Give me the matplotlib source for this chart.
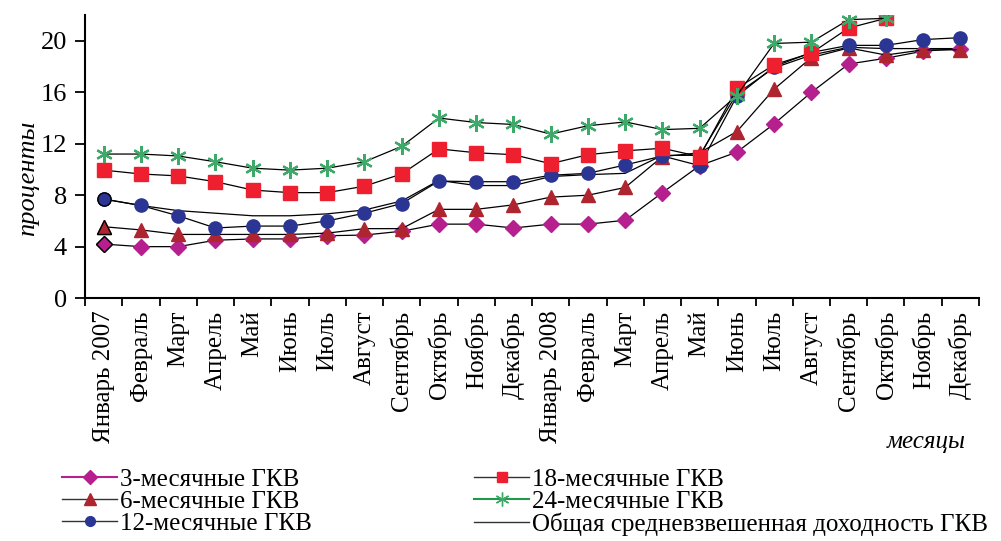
import numpy as np
import matplotlib
matplotlib.use('Agg')
import matplotlib.pyplot as plt
from matplotlib.lines import Line2D

plt.rcParams['font.family'] = ['Liberation Serif', 'DejaVu Serif']

months = ['Январь 2007', 'Февраль', 'Март', 'Апрель', 'Май', 'Июнь', 'Июль',
          'Август', 'Сентябрь', 'Октябрь', 'Ноябрь', 'Декабрь', 'Январь 2008',
          'Февраль', 'Март', 'Апрель', 'Май', 'Июнь', 'Июль', 'Август',
          'Сентябрь', 'Октябрь', 'Ноябрь', 'Декабрь']

# доходность по срокам, %
gkv3 = [4.2, 4.0, 4.0, 4.5, 4.6, 4.6, 4.85, 4.9, 5.2, 5.75, 5.75, 5.45,
        5.75, 5.75, 6.05, 8.2, 10.3, 11.35, 13.55, 16.0, 18.2, 18.65, 19.2, 19.4]
gkv6 = [5.55, 5.3, 4.95, 4.95, 4.95, 4.95, 5.05, 5.4, 5.4, 6.9, 6.9, 7.25,
        7.85, 8.0, 8.6, 11.0, 11.3, 12.95, 16.25, 18.7, 19.45, 18.9, 19.3, 19.3]
gkv12 = [7.7, 7.2, 6.4, 5.45, 5.6, 5.6, 6.0, 6.6, 7.35, 9.1, 9.05, 9.05,
         9.55, 9.7, 10.35, 11.05, 10.3, 15.7, 18.0, 19.1, 19.65, 19.65, 20.1, 20.25]
gkv18 = [9.95, 9.65, 9.5, 9.05, 8.4, 8.2, 8.2, 8.7, 9.65, 11.6, 11.3, 11.15,
         10.45, 11.15, 11.45, 11.65, 11.0, 16.3, 18.15, 19.05, 21.0, 21.75, np.nan, np.nan]
gkv24 = [11.2, 11.2, 11.05, 10.6, 10.1, 9.95, 10.1, 10.6, 11.8, 14.0, 13.65, 13.5,
         12.75, 13.4, 13.7, 13.1, 13.2, 15.75, 19.8, 19.9, 21.65, 21.75, np.nan, np.nan]
avg = [7.7, 7.2, 6.8, 6.6, 6.4, 6.4, 6.55, 6.85, 7.55, 9.15, 8.75, 8.75,
       9.45, 9.6, 9.7, 11.1, 11.1, 15.9, 17.9, 18.9, 19.5, 19.4, 19.4, 19.4]

c3, c6, c12, c18, c24 = '#B5208E', '#AE2530', '#2B3593', '#EE2030', '#3DAA6A'
star = (6, 2, 0)

fig = plt.figure(figsize=(10.01, 5.41), dpi=100)
ax = fig.add_axes([0.085, 0.449, 0.893, 0.523])
x = np.arange(len(months))

ax.plot(x, avg, color='black', lw=0.9)
ax.plot(x, gkv3, color='black', lw=0.9, marker='D', ms=8, mfc=c3, mec=c3)
ax.plot(x, gkv6, color='black', lw=0.9, marker='^', ms=10, mfc=c6, mec=c6)
ax.plot(x, gkv12, color='black', lw=0.9, marker='o', ms=9.5, mfc=c12, mec=c12)
ax.plot(x, gkv18, color='black', lw=0.9, marker='s', ms=9.5, mfc=c18, mec=c18)
ax.plot(x, gkv24, color='black', lw=0.9, marker=star, ms=12, mfc=c24, mec=c24, mew=1.6)
# первая точка с чёрной обводкой
ax.plot(x[0], gkv3[0], marker='D', ms=8, mfc=c3, mec='black', mew=1)
ax.plot(x[0], gkv6[0], marker='^', ms=10, mfc=c6, mec='black', mew=1)
ax.plot(x[0], gkv12[0], marker='o', ms=9.5, mfc=c12, mec='black', mew=1)

ax.set_xlim(-0.5, len(months) - 0.5)
ax.set_ylim(0, 22)
ax.set_yticks(range(0, 21, 4))
ax.set_xticks(np.arange(len(months) + 1) - 0.5)
ax.set_xticklabels([])
ax.set_xticks(x, minor=True)
ax.set_xticklabels(months, minor=True, rotation=90, fontsize=18)
ax.tick_params(axis='x', which='major', direction='out', length=6, width=1.3)
ax.tick_params(axis='x', which='minor', length=0, pad=9)
ax.tick_params(axis='y', direction='out', length=7, width=1.3, labelsize=19, pad=6)
for s in ['top', 'right']:
    ax.spines[s].set_visible(False)
for s in ['left', 'bottom']:
    ax.spines[s].set_linewidth(1.5)

ax.set_ylabel('проценты', fontsize=19, style='italic')
ax.yaxis.set_label_coords(-0.052, 0.424)
ax.set_xlabel('месяцы', fontsize=18, style='italic', loc='right')
ax.xaxis.set_label_coords(0.985, -0.47)

handles = [
    Line2D([], [], color=c3, lw=1.5, marker='D', ms=7, mfc=c3, mec=c3),
    Line2D([], [], color='#333333', lw=1, marker='^', ms=8, mfc=c6, mec=c6),
    Line2D([], [], color='#333333', lw=1, marker='o', ms=7, mfc=c12, mec=c12),
    Line2D([], [], color='#333333', lw=1, marker='s', ms=7, mfc=c18, mec=c18),
    Line2D([], [], color='#1E9A4A', lw=1.5, marker=star, ms=10, mfc=c24, mec=c24),
    Line2D([], [], color='#333333', lw=1),
]
labels = ['3-месячные ГКВ', '6-месячные ГКВ', '12-месячные ГКВ',
          '18-месячные ГКВ', '24-месячные ГКВ',
          'Общая средневзвешенная доходность ГКВ']
fig.legend(handles, labels, loc='upper left', bbox_to_anchor=(0.062, 0.134),
           ncol=2, frameon=False, fontsize=18, handlelength=2.2,
           handletextpad=0.12, labelspacing=-0.03, columnspacing=6.5,
           borderaxespad=0, borderpad=0)

fig.savefig('out.png', dpi=100)
